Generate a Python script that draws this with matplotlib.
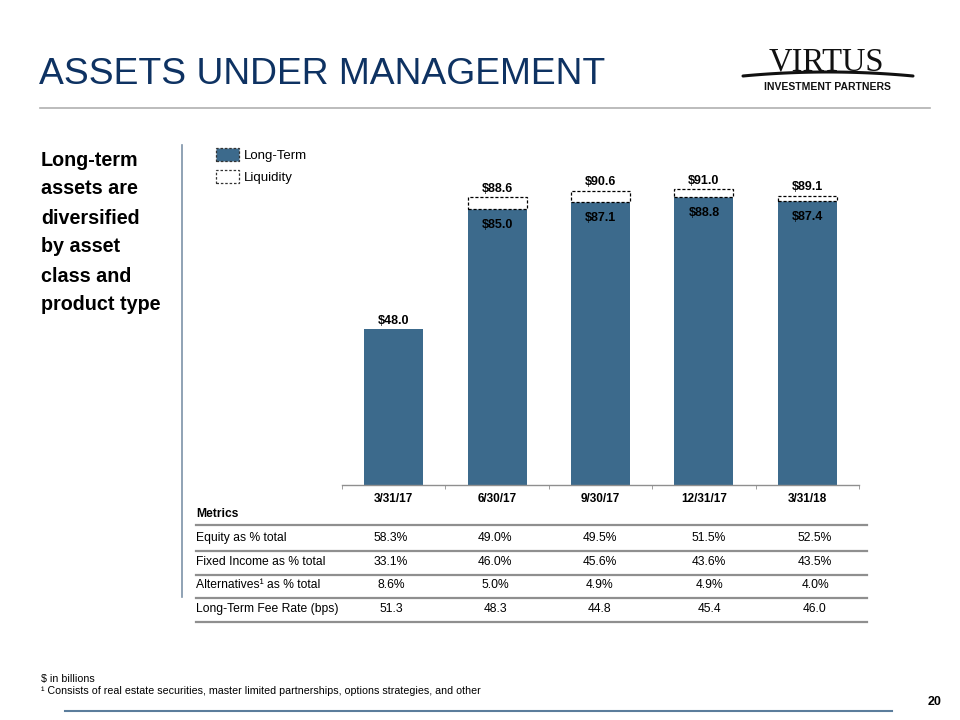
import numpy as np
import matplotlib
matplotlib.use("Agg")
import matplotlib.pyplot as plt
from matplotlib.patches import Patch

plt.rcParams['font.family'] = ['Liberation Sans', 'DejaVu Sans']

# data ($ in billions)
quarters = ["3/31/17", "6/30/17", "9/30/17", "12/31/17", "3/31/18"]
long_term = [48.0, 85.0, 87.1, 88.8, 87.4]
total_aum = [48.0, 88.6, 90.6, 91.0, 89.1]

metric_names = ["Equity as % total", "Fixed Income as % total",
                "Alternatives\u00b9 as % total", "Long-Term Fee Rate (bps)"]
equity_pct = ["58.3%", "49.0%", "49.5%", "51.5%", "52.5%"]
fixed_income_pct = ["33.1%", "46.0%", "45.6%", "43.6%", "43.5%"]
alternatives_pct = ["8.6%", "5.0%", "4.9%", "4.9%", "4.0%"]
fee_rate_bps = ["51.3", "48.3", "44.8", "45.4", "46.0"]
metric_rows = [equity_pct, fixed_income_pct, alternatives_pct, fee_rate_bps]

navy = "#0e3262"
bar_col = "#3c6a8c"
grey = "#8f8f8f"

fig = plt.figure(figsize=(9.6, 7.2), dpi=100)

# page overlay in pixel coords
pg = fig.add_axes([0, 0, 1, 1], zorder=0)
pg.set_xlim(0, 960)
pg.set_ylim(720, 0)
pg.axis("off")

pg.text(39, 75, "ASSETS UNDER MANAGEMENT", fontsize=26.8, color=navy,
        va="center", ha="left")
pg.plot([40, 930], [108, 108], color="#b0b0b0", lw=1.2)

# logo
pg.text(826, 62, "VIRTUS", family=["Liberation Serif", "DejaVu Serif"],
        fontsize=23.5, color="#111111", ha="center", va="center")
t = np.linspace(-1, 1, 60)
pg.plot(828 + 85 * t, 76 - 4 * (1 - t ** 2), color="#111111", lw=2.2,
        solid_capstyle="round")
pg.text(827, 86.5, "INVESTMENT PARTNERS", fontsize=7.5, fontweight="bold",
        color="#111111", ha="center", va="center")

# left text
side = ["Long-term", "assets are", "diversified", "by asset",
        "class and", "product type"]
for i, line in enumerate(side):
    pg.text(41, 160 + 29 * i, line, fontsize=14.2, fontweight="bold",
            color="black", va="center", ha="left")
pg.plot([182, 182], [145, 597], color="#7d92a8", lw=1.2)

# table
col_x = [391, 495, 600, 709, 815]
pg.text(196, 514, "Metrics", fontsize=8.7, fontweight="bold", va="center")
pg.plot([196, 867], [525, 525], color=grey, lw=1.6)
row_y = [538, 562, 585, 609]
for name, vals, y in zip(metric_names, metric_rows, row_y):
    pg.text(196, y, name, fontsize=8.7, va="center")
    for x, v in zip(col_x, vals):
        pg.text(x, y, v, fontsize=8.7, va="center", ha="center")
    pg.plot([196, 867], [y + 13, y + 13], color=grey, lw=1.6)

# footnotes
pg.text(41, 679, "$ in billions", fontsize=7.7, va="center")
pg.text(41, 691, "\u00b9 Consists of real estate securities, master limited "
        "partnerships, options strategies, and other", fontsize=7.7, va="center")
pg.plot([65, 892], [711, 711], color="#5b7d9c", lw=1.5)
pg.text(935, 702, "20", fontsize=9, fontweight="bold", ha="center", va="center")

# bar chart
ax = fig.add_axes([342 / 960, (720 - 485) / 720, 517 / 960, 324.8 / 720],
                  zorder=1)
ax.set_facecolor("none")
x = np.arange(len(quarters))
liquidity = [t_ - l_ for t_, l_ in zip(total_aum, long_term)]
w = 0.57
ax.bar(x, long_term, width=w, color=bar_col, linewidth=0)
ax.bar(x[1:], liquidity[1:], bottom=long_term[1:], width=w, color="white",
       edgecolor="black", linestyle=(0, (2.5, 1.5)), linewidth=0.9)

for i in range(len(quarters)):
    ax.annotate(f"${total_aum[i]:.1f}", (x[i], total_aum[i]),
                xytext=(0, 6), textcoords="offset points", ha="center",
                va="center", fontsize=9, fontweight="bold")
    if liquidity[i] > 0:
        ax.annotate(f"${long_term[i]:.1f}", (x[i], long_term[i]),
                    xytext=(0, -11.5), textcoords="offset points", ha="center",
                    va="center", fontsize=9, fontweight="bold")

ax.set_xlim(-0.5, 4.5)
ax.set_ylim(0, 100)
for s in ["top", "right", "left"]:
    ax.spines[s].set_visible(False)
ax.spines["bottom"].set_color(grey)
ax.spines["bottom"].set_linewidth(1)
ax.set_yticks([])
ax.set_xticks(x)
ax.set_xticklabels(quarters, fontsize=8.5, fontweight="bold")
ax.set_xticks(np.arange(-0.5, 5, 1), minor=True)
ax.tick_params(axis="x", which="major", length=0, pad=6)
ax.tick_params(axis="x", which="minor", length=3, color=grey, direction="out")

handles = [Patch(facecolor=bar_col, edgecolor="#333333", linestyle=(0, (2, 1.5)),
                 linewidth=0.9, label="Long-Term"),
           Patch(facecolor="white", edgecolor="#333333", linestyle=(0, (2, 1.5)),
                 linewidth=0.9, label="Liquidity")]
fig.legend(handles=handles, loc="upper left",
           bbox_to_anchor=(211 / 960, 1 - 143 / 720), frameon=False,
           fontsize=9.5, handlelength=1.7, handleheight=1.15,
           handletextpad=0.4, labelspacing=0.6, borderaxespad=0)

fig.savefig("out.png", dpi=100)
